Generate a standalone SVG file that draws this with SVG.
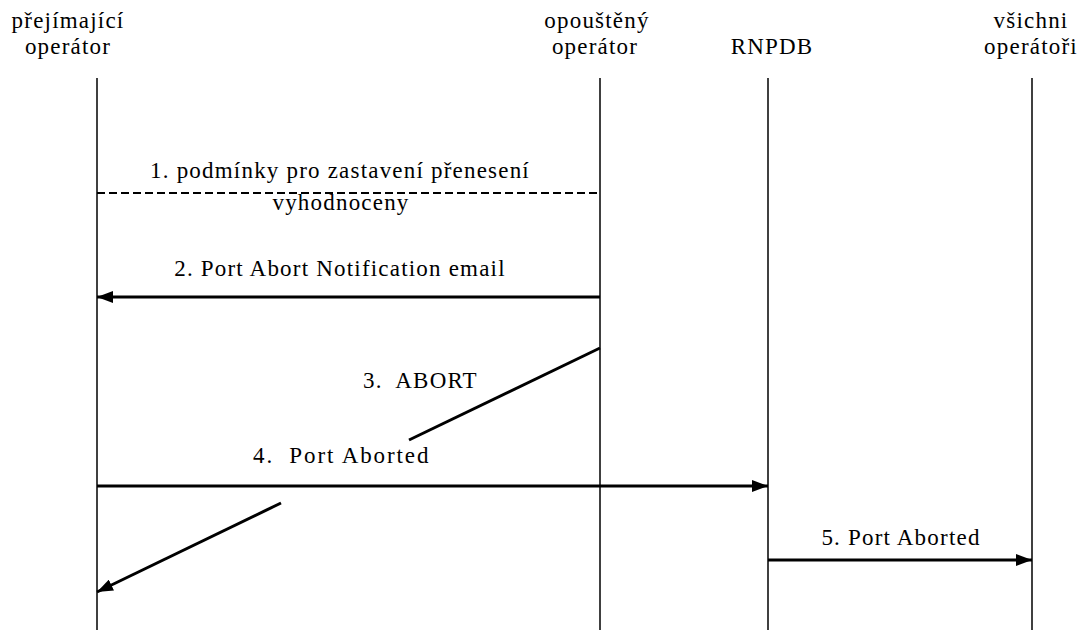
<svg xmlns="http://www.w3.org/2000/svg" width="1080" height="630" viewBox="0 0 1080 630">
  <style>
    text { font-family: "Liberation Serif", "Times New Roman", serif; font-size: 23px; fill: #000; letter-spacing: 1.2px; }
    .mid { text-anchor: middle; }
    .wide { letter-spacing: 1.9px; }
    .life { stroke: #000; stroke-width: 1.5; fill: none; }
    .msg { stroke: #000; stroke-width: 3; fill: none; }
    .dash { stroke: #000; stroke-width: 2; fill: none; stroke-dasharray: 8 4; }
  </style>
  <defs>
    <marker id="head" viewBox="0 0 16 12" refX="16" refY="6" markerWidth="16" markerHeight="12" markerUnits="userSpaceOnUse" orient="auto">
      <path d="M0,0 L16,6 L0,12 z" fill="#000"/>
    </marker>
  </defs>
  <rect width="1080" height="630" fill="#fff"/>

  <!-- participants: header label plus lifeline -->
  <g id="prejimajici">
    <text class="mid" x="68" y="28">přejímající</text>
    <text class="mid" x="68" y="54">operátor</text>
    <line class="life" x1="97" y1="78" x2="97" y2="630"/>
  </g>
  <g id="opousteny">
    <text class="mid" x="597" y="28">opouštěný</text>
    <text class="mid" x="595" y="54">operátor</text>
    <line class="life" x1="600" y1="78" x2="600" y2="630"/>
  </g>
  <g id="rnpdb">
    <text class="mid" x="772" y="54">RNPDB</text>
    <line class="life" x1="768" y1="78" x2="768" y2="630"/>
  </g>
  <g id="vsichni">
    <text class="mid" x="1031" y="28">všichni</text>
    <text class="mid" x="1031" y="54">operátoři</text>
    <line class="life" x1="1032" y1="78" x2="1032" y2="630"/>
  </g>

  <!-- messages -->
  <g id="connectors">
    <line class="dash" x1="97" y1="193" x2="600" y2="193"/>
    <line class="msg" x1="600" y1="297" x2="97" y2="297" marker-end="url(#head)"/>
    <line class="msg" x1="600" y1="348" x2="409" y2="440"/>
    <line class="msg" x1="281" y1="503" x2="97" y2="592" marker-end="url(#head)"/>
    <line class="msg" x1="97" y1="486" x2="768" y2="486" marker-end="url(#head)"/>
    <line class="msg" x1="768" y1="560" x2="1032" y2="560" marker-end="url(#head)"/>
  </g>

  <!-- message labels -->
  <g id="labels">
    <text class="mid" x="340" y="178">1. podmínky pro zastavení přenesení</text>
    <text class="mid" x="341" y="210">vyhodnoceny</text>
    <text class="mid" x="340" y="276">2. Port Abort Notification email</text>
    <text x="363" y="388" xml:space="preserve">3.  ABORT</text>
    <text class="wide" x="253" y="463" xml:space="preserve">4.  Port Aborted</text>
    <text class="mid" x="901" y="545">5. Port Aborted</text>
  </g>
</svg>
